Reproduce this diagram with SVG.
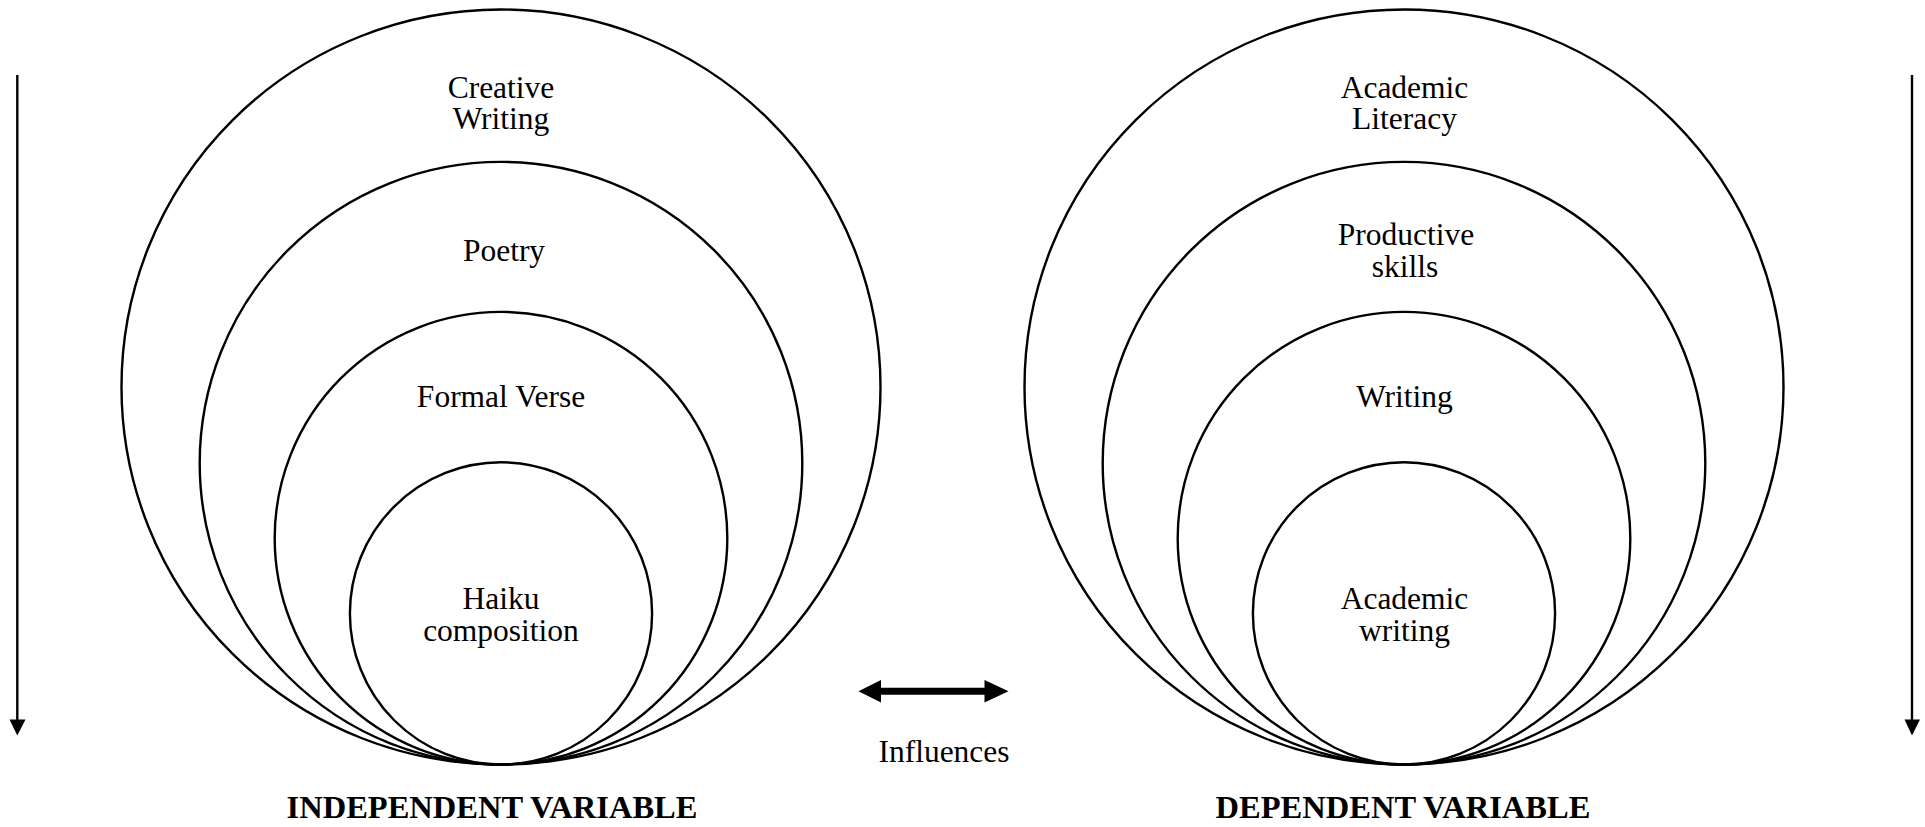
<svg xmlns="http://www.w3.org/2000/svg" width="1925" height="827" viewBox="0 0 1925 827">
  <defs>
    <style>
      .ring { fill: none; stroke: #000; stroke-width: 2.4; }
      .lbl { font-family: "Liberation Serif", "Times New Roman", serif; font-size: 31.5px; fill: #000; text-anchor: middle; }
      .title { font-family: "Liberation Serif", "Times New Roman", serif; font-size: 32.5px; font-weight: bold; fill: #000; text-anchor: middle; }
      .axis { stroke: #000; stroke-width: 2.4; fill: none; }
      .head { fill: #000; }
    </style>
  </defs>

  <rect width="1925" height="827" fill="#fff"/>

  <!-- Independent variable: nested circles touching at the bottom -->
  <g id="creative-writing">
    <ellipse class="ring" cx="501" cy="387" rx="379.5" ry="377.5"/>
    <text class="lbl" x="501" y="97.5">Creative</text>
    <text class="lbl" x="501" y="129">Writing</text>
  </g>
  <g id="poetry">
    <circle class="ring" cx="501" cy="463.2" r="301.3"/>
    <text class="lbl" x="504" y="261">Poetry</text>
  </g>
  <g id="formal-verse">
    <circle class="ring" cx="501" cy="538.2" r="226.3"/>
    <text class="lbl" x="501" y="406.5">Formal Verse</text>
  </g>
  <g id="haiku-composition">
    <circle class="ring" cx="501" cy="613.4" r="151.1"/>
    <text class="lbl" x="501" y="608.5">Haiku</text>
    <text class="lbl" x="501" y="640.5">composition</text>
  </g>
  <g id="independent-label">
    <text class="title" x="492" y="818">INDEPENDENT VARIABLE</text>
  </g>

  <!-- Dependent variable: nested circles touching at the bottom -->
  <g id="academic-literacy">
    <ellipse class="ring" cx="1404" cy="387" rx="379.5" ry="377.5"/>
    <text class="lbl" x="1404.5" y="97.5">Academic</text>
    <text class="lbl" x="1404.5" y="129">Literacy</text>
  </g>
  <g id="productive-skills">
    <circle class="ring" cx="1404" cy="463.2" r="301.3"/>
    <text class="lbl" x="1406" y="245">Productive</text>
    <text class="lbl" x="1405" y="277">skills</text>
  </g>
  <g id="writing">
    <circle class="ring" cx="1404" cy="538.2" r="226.3"/>
    <text class="lbl" x="1404.5" y="406.5">Writing</text>
  </g>
  <g id="academic-writing">
    <circle class="ring" cx="1404" cy="613.4" r="151.1"/>
    <text class="lbl" x="1404.5" y="608.5">Academic</text>
    <text class="lbl" x="1404.5" y="640.5">writing</text>
  </g>
  <g id="dependent-label">
    <text class="title" x="1403" y="818">DEPENDENT VARIABLE</text>
  </g>

  <!-- Connectors -->
  <g id="connectors">
    <line class="axis" x1="17.3" y1="75" x2="17.3" y2="721"/>
    <path class="head" d="M9.5,719.5 L25.5,719.5 L17.3,735.5 Z"/>
    <line class="axis" x1="1912" y1="75" x2="1912" y2="721"/>
    <path class="head" d="M1904.5,719.5 L1920,719.5 L1912,735.5 Z"/>
    <!-- two-way influence arrow -->
    <path class="head" d="M858.5,691.3 L881,680 L881,687.8 L984.5,687.8 L984.5,680 L1008.5,691.3 L984.5,702.5 L984.5,694.8 L881,694.8 L881,702.5 Z"/>
    <text class="lbl" x="944" y="762">Influences</text>
  </g>
</svg>
